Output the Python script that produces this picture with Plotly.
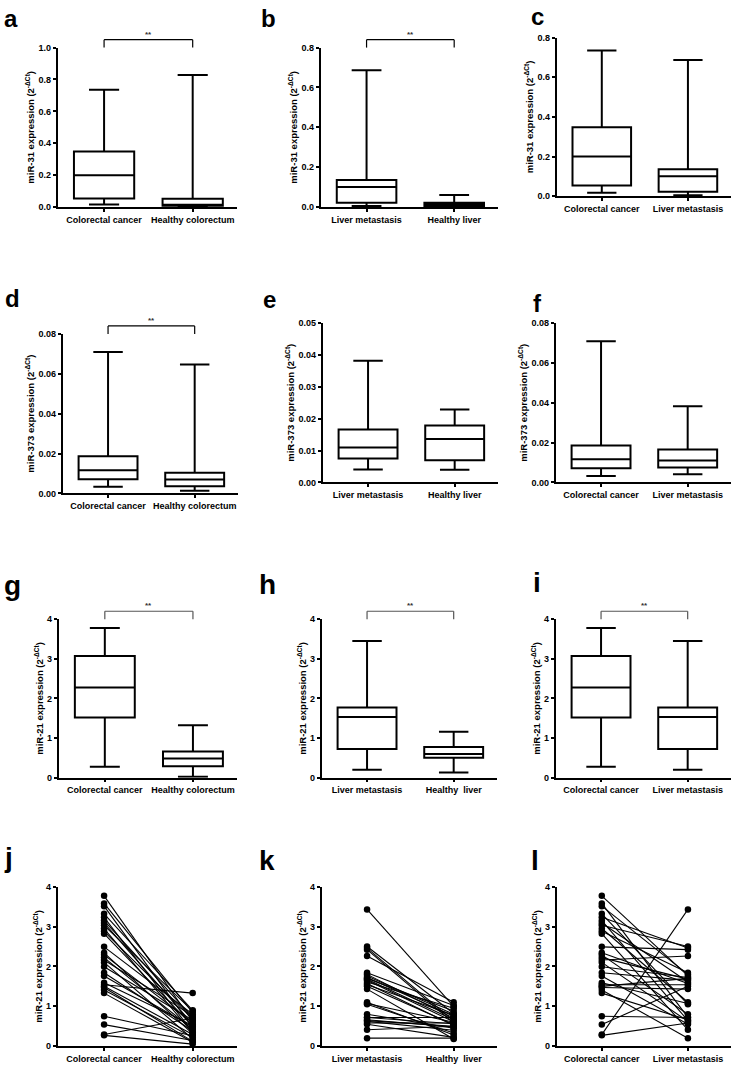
import plotly.graph_objects as go

W, H = 733, 1066

# ---------------- data ----------------
CRC = "Colorectal cancer"
HC = "Healthy colorectum"
LM = "Liver metastasis"
HL = "Healthy liver"
HL2 = "Healthy\u00a0 liver"

# box summaries: lowerfence (min), q1, median, q3, upperfence (max)
mir31_crc = [0.017, 0.054, 0.200, 0.348, 0.735]
mir31_hc = [0.002, 0.008, 0.015, 0.052, 0.828]
mir31_lm = [0.005, 0.022, 0.101, 0.136, 0.687]
mir31_hl = [0.001, 0.005, 0.012, 0.022, 0.061]
mir373_crc = [0.0033, 0.0071, 0.0116, 0.0186, 0.0709]
mir373_hc = [0.0013, 0.0036, 0.0070, 0.0104, 0.0646]
mir373_lm = [0.0041, 0.0075, 0.0110, 0.0166, 0.0382]
mir373_hl = [0.0040, 0.0070, 0.0136, 0.0179, 0.0229]
mir21_crc = [0.275, 1.517, 2.275, 3.07, 3.78]
mir21_hc = [0.025, 0.29, 0.483, 0.66, 1.325]
mir21_lm = [0.20, 0.725, 1.533, 1.77, 3.45]
mir21_hl = [0.133, 0.50, 0.60, 0.775, 1.158]

# paired miR-21 values per patient
pair_crc = [3.77, 3.58, 3.51, 3.32, 3.23, 3.15, 3.09, 3.03, 2.95, 2.88,
            2.82, 2.49, 2.34, 2.29, 2.22, 2.16, 2.10, 1.99, 1.84, 1.76,
            1.59, 1.54, 1.50, 1.47, 1.41, 1.33, 0.75, 0.54, 0.29, 0.27]
pair_lm = [1.76, 0.72, 1.80, 1.05, 2.46, 0.64, 1.61, 2.50, 1.10, 1.84,
           0.41, 2.42, 1.57, 0.80, 1.68, 2.26, 0.62, 1.72, 1.65, 0.55,
           1.07, 1.54, 1.70, 1.43, 0.20, 0.66, 0.72, 1.50, 3.43, 0.58]
pair_hc = [0.62, 0.84, 0.46, 0.90, 0.35, 0.72, 0.55, 0.88, 0.33, 0.68,
           0.50, 0.80, 0.31, 0.58, 0.42, 0.76, 0.18, 0.65, 0.38, 0.48,
           0.52, 1.33, 0.29, 0.12, 0.22, 0.10, 0.26, 0.14, 0.70, 0.05]
pair_hl = [0.80, 0.56, 0.70, 0.33, 0.63, 0.50, 0.95, 0.82, 0.28, 1.02,
           0.50, 0.58, 0.52, 0.45, 0.66, 1.10, 0.40, 0.75, 0.61, 0.22,
           0.60, 0.78, 0.88, 0.18, 0.20, 0.48, 0.72, 0.54, 1.00, 0.58]

T31 = "miR-31 expression (2<sup>-ΔCt</sup>)"
T373 = "miR-373 expression (2<sup>-ΔCt</sup>)"
T21 = "miR-21 expression (2<sup>-ΔCt</sup>)"

# panel layout: letter, kind, cats, data, ymax, dtick, fmt, title, px box (l, r, top, bottom), bracket, letter pos (x, baseline, size)
panels = [
    ("a", "box", [CRC, HC], [mir31_crc, mir31_hc], 1.0, 0.2, ".1f", T31, (58, 237, 43, 204), True, (2, 22, 24)),
    ("b", "box", [LM, HL], [mir31_lm, mir31_hl], 0.8, 0.2, ".1f", T31, (321, 498, 43, 204), True, (259, 22, 24)),
    ("c", "box", [CRC, LM], [mir31_crc, mir31_lm], 0.8, 0.2, ".1f", T31, (557, 731, 33, 193), False, (529, 20, 24)),
    ("d", "box", [CRC, HC], [mir373_crc, mir373_hc], 0.08, 0.02, ".2f", T373, (63, 238, 332, 493), True, (3, 305, 24)),
    ("e", "box", [LM, HL], [mir373_lm, mir373_hl], 0.05, 0.01, ".2f", T373, (323, 498, 321, 482), False, (261, 306, 24)),
    ("f", "box", [CRC, LM], [mir373_crc, mir373_lm], 0.08, 0.02, ".2f", T373, (556, 731, 321, 482), False, (531, 310, 24)),
    ("g", "box", [CRC, HC], [mir21_crc, mir21_hc], 4, 1, "d", T21, (59, 237, 620, 780), True, (2, 596, 28)),
    ("h", "box", [LM, HL2], [mir21_lm, mir21_hl], 4, 1, "d", T21, (322, 497, 620, 780), True, (257, 595, 28)),
    ("i", "box", [CRC, LM], [mir21_crc, mir21_lm], 4, 1, "d", T21, (556, 731, 620, 780), True, (531, 593, 28)),
    ("j", "pair", [CRC, HC], [pair_crc, pair_hc], 4, 1, "d", T21, (58, 237, 890, 1051), False, (2, 870, 28)),
    ("k", "pair", [LM, HL2], [pair_lm, pair_hl], 4, 1, "d", T21, (322, 497, 890, 1051), False, (257, 873, 28)),
    ("l", "pair", [CRC, LM], [pair_crc, pair_lm], 4, 1, "d", T21, (557, 731, 890, 1051), False, (529, 873, 28)),
]

FONT = "Liberation Sans, Arial, sans-serif"
fig = go.Figure()
shapes = []
annotations = []
layout = {}

for n, (letter, kind, cats, data, ymax, dtick, fmt, ytitle, box, bracket, lpos) in enumerate(panels, start=1):
    xs = "x" if n == 1 else f"x{n}"
    ys = "y" if n == 1 else f"y{n}"
    xk = "xaxis" if n == 1 else f"xaxis{n}"
    yk = "yaxis" if n == 1 else f"yaxis{n}"
    l, r, t, b = box
    if kind == "box":
        fig.add_trace(go.Box(
            x=cats,
            lowerfence=[d[0] for d in data],
            q1=[d[1] for d in data],
            median=[d[2] for d in data],
            q3=[d[3] for d in data],
            upperfence=[d[4] for d in data],
            boxpoints=False, width=0.68, whiskerwidth=0.5,
            fillcolor="white", line=dict(color="black", width=2),
            xaxis=xs, yaxis=ys, showlegend=False, hoverinfo="skip",
        ))
    else:
        px_, py_ = [], []
        for v1, v2 in zip(data[0], data[1]):
            px_ += [cats[0], cats[1], None]
            py_ += [v1, v2, None]
        fig.add_trace(go.Scatter(
            x=px_, y=py_, mode="lines+markers",
            line=dict(color="black", width=1.1),
            marker=dict(color="black", size=6.5),
            xaxis=xs, yaxis=ys, showlegend=False, hoverinfo="skip",
        ))
    layout[xk] = dict(
        domain=[l / W, r / W], anchor=ys, type="category",
        categoryorder="array", categoryarray=cats, range=[-0.52, 1.5],
        showline=True, linecolor="black", linewidth=1.5,
        ticks="outside", ticklen=3, tickwidth=1.5, tickcolor="black",
        showgrid=False, zeroline=False, fixedrange=True,
        tickfont=dict(family=FONT, size=9, color="black", weight="bold"),
    )
    layout[yk] = dict(
        domain=[1 - b / H, 1 - t / H], anchor=xs,
        range=[0, ymax], tick0=0, dtick=dtick, tickformat=fmt,
        showline=True, linecolor="black", linewidth=1.5,
        ticks="outside", ticklen=3.5, tickwidth=1.5, tickcolor="black",
        showgrid=False, zeroline=False, fixedrange=True,
        tickfont=dict(family=FONT, size=9, color="black", weight="bold"),
        title=dict(text=ytitle, standoff=2,
                   font=dict(family=FONT, size=9.5, color="black", weight="bold")),
    )
    if bracket:
        bc = "black" if n <= 4 else "#555555"
        dref = f"{ys} domain"
        hgt = 1 + 8 / (b - t)
        shapes += [
            dict(type="line", xref=xs, yref=dref, x0=0, x1=0, y0=1.0, y1=hgt, line=dict(color=bc, width=1.2)),
            dict(type="line", xref=xs, yref=dref, x0=0, x1=1, y0=hgt, y1=hgt, line=dict(color=bc, width=1.2)),
            dict(type="line", xref=xs, yref=dref, x0=1, x1=1, y0=hgt, y1=1.0, line=dict(color=bc, width=1.2)),
        ]
        annotations.append(dict(
            xref=xs, yref=dref, x=0.5, y=hgt, yanchor="bottom", xanchor="center",
            text="**", showarrow=False, borderpad=0,
            font=dict(family=FONT, size=8, color="#333333", weight="bold"),
        ))
    lx, lb, ls = lpos
    annotations.append(dict(
        xref="paper", yref="paper", x=lx / W, y=1 - (lb - 0.35 * ls) / H,
        xanchor="left", yanchor="middle", text=letter, showarrow=False,
        font=dict(family=FONT, size=ls, color="black", weight="bold"),
    ))

fig.update_layout(
    width=W, height=H, autosize=False,
    margin=dict(l=0, r=0, t=0, b=0),
    paper_bgcolor="white", plot_bgcolor="white",
    shapes=shapes, annotations=annotations, **layout,
)
fig.write_html("out.html", config={"displayModeBar": False},
               post_script="document.body.style.margin='0px';")
